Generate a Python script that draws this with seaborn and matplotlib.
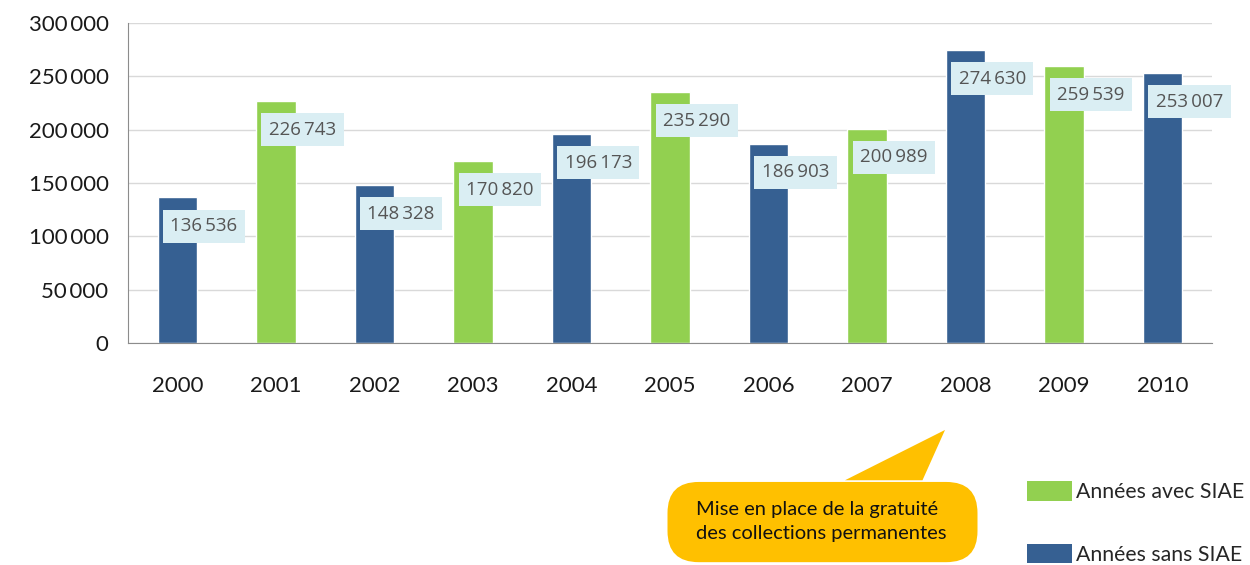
import pandas as pd
import numpy as np
import matplotlib
matplotlib.use("Agg")
import matplotlib.pyplot as plt
import seaborn as sns
from matplotlib.patches import Patch, FancyBboxPatch, Polygon
from matplotlib.ticker import FuncFormatter, FixedLocator

years = ["2000", "2001", "2002", "2003", "2004", "2005", "2006", "2007", "2008", "2009", "2010"]
visitors = [136536, 226743, 148328, 170820, 196173, 235290, 186903, 200989, 274630, 259539, 253007]
groups = ["Années sans SIAE", "Années avec SIAE"] * 5 + ["Années sans SIAE"]

green = "#92D050"
blue = "#366092"
palette = {"Années avec SIAE": green, "Années sans SIAE": blue}

df = pd.DataFrame({"year": years, "visitors": visitors, "group": groups})

sns.set_style("white")
plt.rcParams["font.family"] = ["Lato", "DejaVu Sans"]

fig = plt.figure(figsize=(12.5, 5.65), dpi=100)
ax = fig.add_axes([0.1024, 0.3929, 0.8672, 0.5664])

sns.barplot(data=df, x="year", y="visitors", hue="group", palette=palette,
            dodge=False, width=0.4, legend=False, ax=ax, saturation=1)

ax.set_xlim(-0.5, 10.5)
ax.set_ylim(0, 300000)
ax.set_yticks(np.arange(0, 300001, 50000))
ax.yaxis.set_major_formatter(FuncFormatter(lambda v, p: f"{int(v):,}".replace(",", "\u2009")))
ax.grid(axis="y", color="#d9d9d9", linewidth=1)
ax.set_axisbelow(True)
ax.set_xlabel("")
ax.set_ylabel("")
for s in ["top", "right"]:
    ax.spines[s].set_visible(False)
for s in ["left", "bottom"]:
    ax.spines[s].set_color("#8c8c8c")
ax.tick_params(axis="y", length=6, color="#8c8c8c", labelsize=16, labelcolor="#1a1a1a", pad=8)
ax.tick_params(axis="x", which="major", length=0, labelsize=16, labelcolor="#1a1a1a", pad=24)
ax.xaxis.set_minor_locator(FixedLocator(np.arange(-0.5, 11, 1)))
ax.tick_params(axis="x", which="minor", length=7, color="#8c8c8c", direction="out")

# data labels
for i, v in enumerate(visitors):
    lbl = f"{v:,}".replace(",", "\u2009")
    ax.text(i - 0.07, v - 27000, lbl, ha="left", va="center", fontsize=13.5,
            color="#555555", family=["Open Sans", "DejaVu Sans"],
            bbox=dict(boxstyle="square,pad=0.4", fc="#daeef3", ec="none"), zorder=5)

# callout bubble
bubble = FancyBboxPatch((0.534, 0.005), 0.248, 0.142, boxstyle="round,pad=0,rounding_size=0.025",
                        transform=fig.transFigure, fc="#FFC000", ec="none", mutation_aspect=2.2)
fig.patches.append(bubble)
pointer = Polygon([(0.676, 0.15), (0.756, 0.239), (0.738, 0.15)], closed=True,
                  transform=fig.transFigure, fc="#FFC000", ec="none")
fig.patches.append(pointer)
fig.text(0.557, 0.077, "Mise en place de la gratuité\ndes collections permanentes",
         ha="left", va="center", fontsize=14.5, color="#111111", linespacing=1.45)

handles = [Patch(fc=green, ec="none", label="Années avec SIAE"),
           Patch(fc=blue, ec="none", label="Années sans SIAE")]
fig.legend(handles=handles, loc="lower left", bbox_to_anchor=(0.81, -0.026), frameon=False,
           fontsize=15.3, handlelength=2.1, handleheight=1.05, labelspacing=1.95,
           handletextpad=0.2, borderpad=0.2)

fig.savefig("out.png", dpi=100)
